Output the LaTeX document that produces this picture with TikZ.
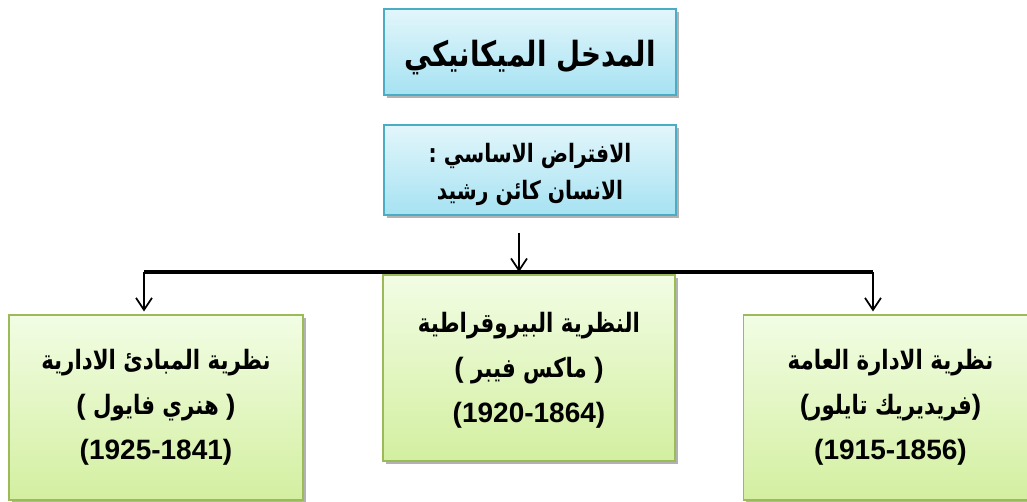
\documentclass[tikz,border=0pt]{standalone}
\usepackage{fontspec}
\setmainfont{Liberation Sans}
\newfontfamily\arabicfont[Script=Arabic,FakeStretch=0.8]{DejaVu Sans}
\TeXXeTstate=1
\usetikzlibrary{arrows.meta,shadows}

\definecolor{bluetop}{HTML}{E2F6FB}
\definecolor{bluebot}{HTML}{A6E2F2}
\definecolor{boxblue}{HTML}{4BACC6}
\definecolor{greentop}{HTML}{F2FDE4}
\definecolor{greenbot}{HTML}{D3EFA0}
\definecolor{boxgreen}{HTML}{9BBB59}

% Arabic run, set right to left
\newcommand{\ar}[1]{{\arabicfont\bfseries\beginR #1\endR}}
% Latin digits and brackets
\newcommand{\lt}[1]{{\rmfamily\bfseries\fontsize{21}{33.75}\selectfont #1}}
% lower a line without changing its reported size
\newcommand{\lowered}[2]{\raisebox{-#1}[\height][\depth]{#2}}

\begin{document}
\begin{tikzpicture}[x=0.75pt,y=-0.75pt,
  boxshadow/.style={drop shadow={shadow xshift=2.2pt,shadow yshift=-2.2pt,fill=black,opacity=0.3}},
  bluebox/.style={boxshadow,draw=boxblue,line width=1.3pt,top color=bluetop,bottom color=bluebot,
    minimum width=219pt,align=center,inner sep=0pt},
  greenbox/.style={boxshadow,draw=boxgreen,line width=1.3pt,top color=greentop,bottom color=greenbot,
    minimum width=220.5pt,minimum height=138.75pt,align=center,inner sep=0pt},
  arr/.style={line width=1.3pt,-{Straight Barb[length=9pt,width=12pt,line width=1.3pt]}},
  bar/.style={line width=2.3pt}]

\useasboundingbox (0,0) rectangle (1027,502);
\clip (0,0) rectangle (1027,502);

% upper boxes
\node[bluebox,minimum height=64.5pt,font=\fontsize{26}{30}\selectfont] (title) at (530,52)
  {\lowered{4.5pt}{\ar{المدخل الميكانيكي}}};
\node[bluebox,minimum height=67.5pt,font=\fontsize{19}{27.5}\selectfont] (premise) at (530,170)
  {\lowered{3.5pt}{\ar{الافتراض الاساسي :}}\\ \lowered{3.5pt}{\ar{الانسان كائن رشيد}}};

% lower boxes
\node[greenbox,font=\fontsize{20}{33.75}\selectfont] (fayol) at (156,407.5)
  {\ar{نظرية المبادئ الادارية}\\ \lt{(} \ar{هنري فايول} \lt{)}\\ \lt{(1925-1841)}};
\node[greenbox,minimum height=139.5pt,minimum width=219pt,font=\fontsize{20}{33.75}\selectfont] (weber) at (529,368)
  {\lowered{2pt}{\ar{النظرية البيروقراطية}}\\ \lowered{2pt}{\lt{(} \ar{ماكس فيبر} \lt{)}}\\ \lowered{2pt}{\lt{(1920-1864)}}};
\node[greenbox,font=\fontsize{20}{33.75}\selectfont] (taylor) at (890.5,407.5)
  {\ar{نظرية الادارة العامة}\\ \lt{(}\ar{فريديريك تايلور}\lt{)}\\ \lt{(1915-1856)}};

% connectors
\coordinate (mid) at (519,272);
\coordinate (barL) at (144,272);
\coordinate (barR) at (873,272);
\draw[bar] (barL) -- (barR);
\draw[arr,shorten <=12.75pt] (premise.south -| mid) -- (mid);
\draw[arr,shorten >=2pt] (barL) -- (fayol.north -| barL);
\draw[arr,shorten >=2pt] (barR) -- (taylor.north -| barR);
\end{tikzpicture}
\end{document}
